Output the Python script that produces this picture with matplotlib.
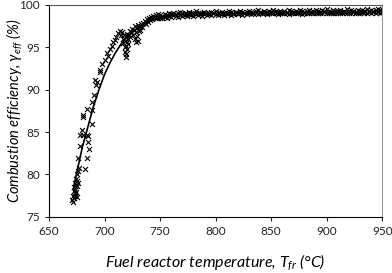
import matplotlib
matplotlib.use('Agg')
import matplotlib.pyplot as plt

plt.rcParams['font.family'] = ['Lato', 'DejaVu Sans']
plt.rcParams['mathtext.fontset'] = 'custom'
plt.rcParams['mathtext.rm'] = 'Lato'
plt.rcParams['mathtext.it'] = 'Lato:italic'

# scattered measurements, heating part (T in degC, efficiency in %)
rise_t = [671.0, 671.5, 672.0, 672.3, 672.5, 672.8, 673.0, 673.2, 673.5, 673.8,
          674.0, 674.2, 674.5, 674.8, 675.0, 675.3, 675.5, 676.0, 676.3, 677.0,
          676.1, 677.9, 677.9, 679.4, 680.8, 680.5, 682.3, 683.9, 684.4, 685.3,
          685.7, 685.3, 680.9, 684.4, 688.4, 688.8, 688.4, 690.4, 692.4, 691.3,
          692.9, 695.8, 695.8, 697.5, 700.3, 701.8, 703.5, 704.5, 706.3, 707.5,
          709.3, 710.5, 712.3, 713.5, 714.5, 715.5]
rise_y = [77.0, 76.8, 77.5, 78.0, 77.2, 78.5, 77.8, 79.0, 78.2, 77.4,
          78.8, 79.5, 77.9, 78.6, 79.2, 77.3, 80.0, 79.0, 80.4, 80.8,
          81.9, 83.3, 84.6, 85.2, 84.7, 86.8, 80.6, 81.9, 84.6, 84.5,
          83.0, 83.8, 87.0, 87.7, 86.0, 87.6, 88.6, 89.4, 90.6, 91.1,
          90.9, 92.1, 92.3, 93.0, 93.5, 94.3, 94.0, 94.8, 95.1, 95.6,
          95.9, 96.2, 96.7, 96.9, 96.5, 96.8]

# dip cluster around 720 degC
dip_t = [716.5, 717.0, 717.5, 718.0, 718.3, 718.6, 719.0, 719.2, 719.5, 719.8,
         720.0, 720.3, 720.6, 721.0, 721.5, 722.0, 722.5, 723.0, 724.0, 725.0,
         726.0, 726.5, 727.0, 727.5, 728.0, 728.5, 729.0, 729.5, 730.0, 730.5,
         731.0, 731.5, 732.0, 733.0, 734.0, 735.0, 736.0, 737.0, 738.0, 739.0,
         740.0, 741.0, 742.0, 743.0, 744.0, 745.0, 746.0, 747.0, 748.0, 749.0]
dip_y = [96.0, 95.5, 96.4, 95.0, 94.5, 95.8, 94.2, 93.9, 95.2, 96.3,
         94.8, 95.6, 96.6, 96.0, 95.4, 96.5, 96.9, 96.2, 96.8, 97.2,
         96.5, 97.0, 97.5, 96.0, 96.8, 95.6, 97.3, 96.3, 97.6, 95.8,
         96.9, 97.4, 97.0, 97.8, 97.4, 97.9, 98.1, 97.8, 98.3, 98.0,
         98.4, 98.2, 98.6, 98.3, 98.7, 98.5, 98.8, 98.5, 98.9, 98.6]

# high temperature plateau
band_t = [750, 752, 754, 756, 758, 760, 762, 764, 766, 768,
          770, 772, 774, 776, 778, 780, 782, 784, 786, 788,
          790, 792, 794, 796, 798, 800, 802, 804, 806, 808,
          810, 812, 814, 816, 818, 820, 822, 824, 826, 828,
          830, 832, 834, 836, 838, 840, 842, 844, 846, 848,
          850, 852, 854, 856, 858, 860, 862, 864, 866, 868,
          870, 872, 874, 876, 878, 880, 882, 884, 886, 888,
          890, 892, 894, 896, 898, 900, 902, 904, 906, 908,
          910, 912, 914, 916, 918, 920, 922, 924, 926, 928,
          930, 932, 934, 936, 938, 940, 942, 944, 946, 948, 950]
band_hi = [98.8, 98.7, 98.9, 98.8, 99.0, 98.9, 99.1, 98.9, 99.0, 99.2,
           99.0, 99.1, 98.9, 99.2, 99.0, 99.1, 99.3, 99.0, 99.1, 99.0,
           99.2, 99.1, 99.0, 99.2, 99.1, 99.3, 99.1, 99.0, 99.2, 99.1,
           99.1, 99.3, 99.2, 99.0, 99.2, 99.1, 99.3, 99.2, 99.1, 99.2,
           99.3, 99.2, 99.1, 99.3, 99.4, 99.2, 99.1, 99.3, 99.2, 99.3,
           99.2, 99.4, 99.3, 99.2, 99.3, 99.1, 99.3, 99.2, 99.4, 99.3,
           99.2, 99.3, 99.2, 99.4, 99.3, 99.2, 99.3, 99.4, 99.2, 99.3,
           99.4, 99.3, 99.2, 99.4, 99.3, 99.5, 99.3, 99.2, 99.4, 99.3,
           99.3, 99.4, 99.2, 99.3, 99.5, 99.3, 99.4, 99.3, 99.2, 99.4,
           99.3, 99.4, 99.3, 99.5, 99.3, 99.4, 99.3, 99.4, 99.5, 99.4, 99.5]
band_lo = [98.4, 98.5, 98.6, 98.5, 98.7, 98.6, 98.8, 98.7, 98.6, 98.8,
           98.7, 98.8, 98.7, 98.9, 98.8, 98.7, 98.9, 98.8, 98.9, 98.7,
           98.9, 98.8, 98.9, 98.8, 99.0, 98.9, 98.8, 99.0, 98.9, 98.8,
           98.9, 99.0, 98.8, 98.9, 99.0, 98.9, 99.0, 98.8, 99.0, 98.9,
           99.0, 98.9, 99.1, 99.0, 98.9, 99.0, 99.1, 99.0, 98.9, 99.0,
           99.0, 99.1, 99.0, 98.9, 99.1, 99.0, 99.1, 99.0, 98.9, 99.1,
           99.0, 99.1, 99.0, 99.1, 98.9, 99.0, 99.1, 99.0, 99.1, 99.0,
           99.1, 99.0, 99.1, 99.0, 99.2, 99.1, 99.0, 99.1, 99.0, 99.1,
           99.1, 99.0, 99.1, 99.2, 99.1, 99.0, 99.1, 99.2, 99.0, 99.1,
           99.1, 99.2, 99.1, 99.0, 99.2, 99.1, 99.2, 99.1, 99.2, 99.1, 99.2]

# fitted curve
fit_t = [672, 675, 680, 685, 690, 695, 700, 705, 710, 715, 720, 730, 740, 750, 760]
fit_y = [78.3, 80.2, 83.2, 85.6, 88.0, 90.0, 91.8, 93.2, 94.4, 95.4, 96.2, 97.3, 98.0, 98.5, 98.8]

fig = plt.figure(figsize=(3.92, 2.73), dpi=100)
ax = fig.add_axes([0.125, 0.206, 0.85, 0.776])

mk = dict(marker='x', s=13, linewidths=0.8, color='black')
ax.scatter(rise_t, rise_y, **mk)
ax.scatter(dip_t, dip_y, **mk)
ax.scatter(band_t, band_hi, **mk)
ax.scatter(band_t, band_lo, **mk)
ax.plot(fit_t, fit_y, color='black', lw=1.2)

ax.set_xlim(650, 950)
ax.set_ylim(75, 100)
ax.set_xticks([650, 700, 750, 800, 850, 900, 950])
ax.set_yticks([75, 80, 85, 90, 95, 100])
ax.tick_params(labelsize=8.5, length=3, width=0.8, colors='#222222')
ax.spines['top'].set_color('#555555')
ax.spines['right'].set_color('#999999')

ax.set_xlabel('Fuel reactor temperature, $T_{fr}$ (°C)', fontsize=11.5, style='italic')
ax.set_ylabel(r'Combustion efficiency, $\gamma_{eff}$ (%)', fontsize=10.5, style='italic')
ax.xaxis.set_label_coords(0.5, -0.165)
ax.yaxis.set_label_coords(-0.075, 0.5)

fig.savefig('out.png', dpi=100)
